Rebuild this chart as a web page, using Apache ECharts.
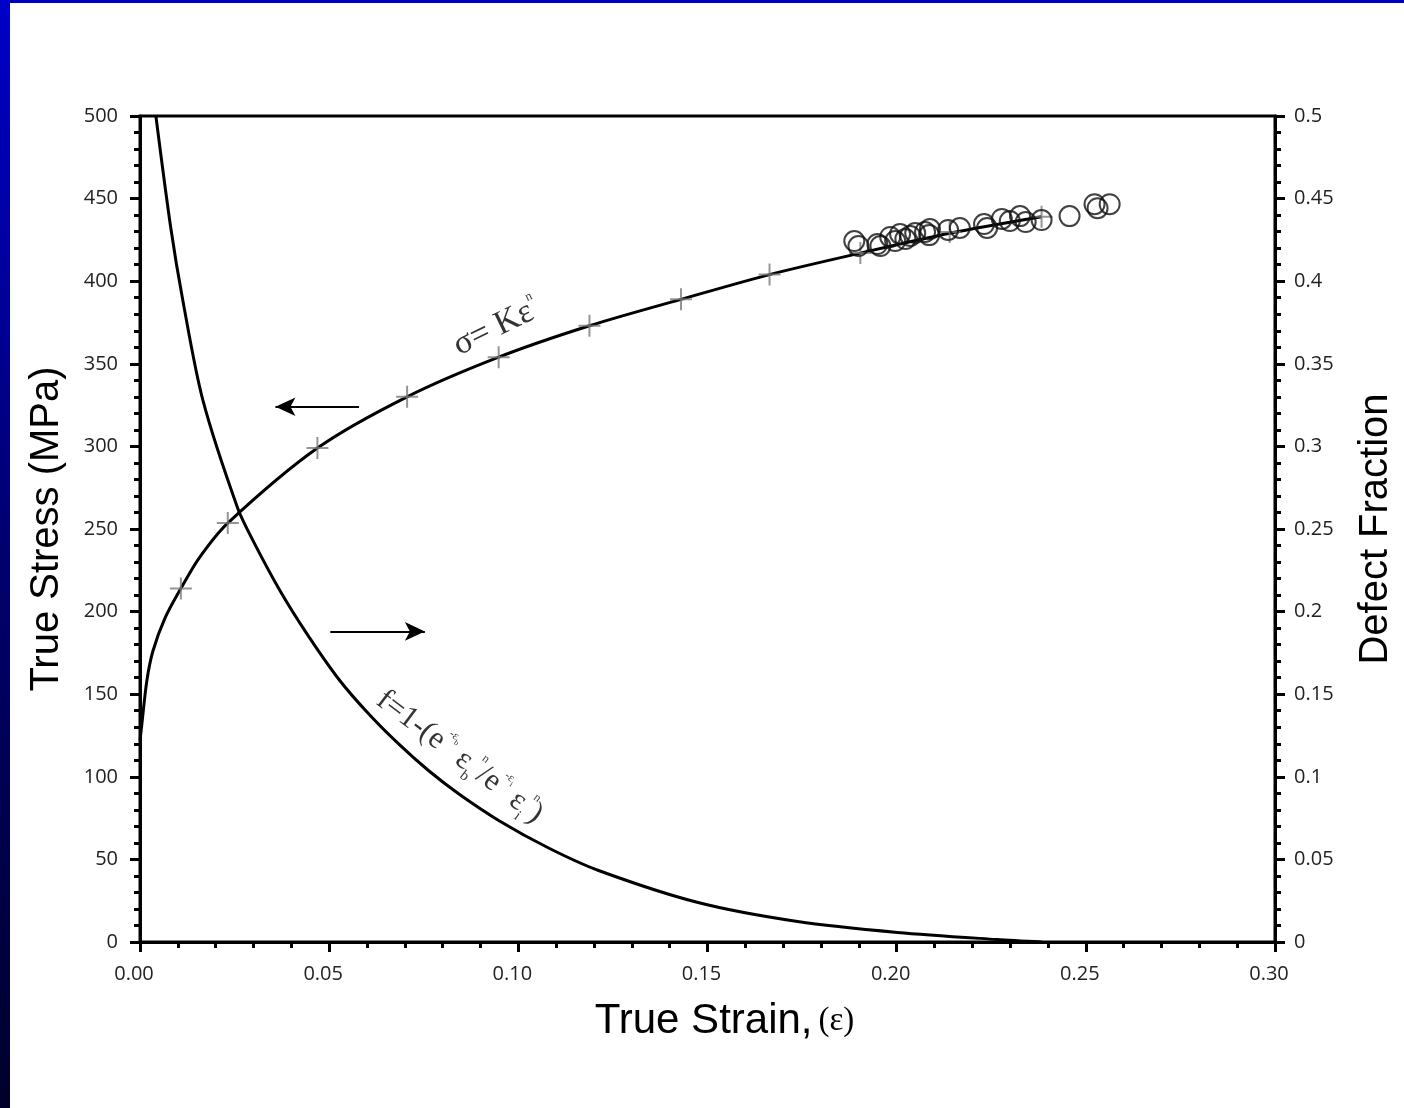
<!DOCTYPE html>
<html>
<head>
<meta charset="utf-8">
<script src="https://cdn.jsdelivr.net/npm/echarts@6/dist/echarts.min.js"></script>
<style>
  html, body { margin: 0; padding: 0; background: #ffffff; }
  #frameLeft { position: absolute; left: 0; top: 0; width: 10px; height: 1108px;
               background: linear-gradient(#0000c8, #00006e 50%, #00002a); }
  #frameTop  { position: absolute; left: 0; top: 0; width: 1404px; height: 3px; background: #0000c4; }
  #chart     { position: absolute; left: 0; top: 0; width: 1404px; height: 1108px; }
</style>
</head>
<body>
<div id="frameLeft"></div>
<div id="frameTop"></div>
<div id="chart"></div>
<script>
// Flow curve sigma = K*eps^n (true strain, true stress in MPa)
const stressCurve = [
  [0.0, 122], [0.0005, 132], [0.0018, 158], [0.0034, 176], [0.0066, 196],
  [0.0108, 214], [0.0158, 233], [0.0232, 253.6], [0.0469, 299], [0.0706, 330],
  [0.0948, 354], [0.1188, 373], [0.143, 389], [0.1664, 404], [0.1904, 417],
  [0.214, 429], [0.2383, 439]
];

// Fitted points marked with crosses
const fitPoints = [
  [0.0108, 214], [0.0232, 253.6], [0.0469, 299], [0.0706, 330], [0.0948, 354],
  [0.1188, 373], [0.143, 389], [0.1664, 404], [0.1904, 417], [0.214, 429.8], [0.2383, 439]
];

// Measured stress at large strains (open circles)
const measured = [
  [0.1888, 424.3], [0.1899, 421.3], [0.1949, 422.5], [0.1957, 421.3], [0.1983, 426.8],
  [0.1996, 424.3], [0.2009, 428.6], [0.2023, 425.5], [0.2036, 427.4], [0.2049, 429.2],
  [0.2075, 429.8], [0.2086, 427.9], [0.2088, 431.6], [0.2136, 431.0], [0.2167, 432.2],
  [0.2231, 434.6], [0.2239, 432.2], [0.2278, 437.7], [0.2299, 436.4], [0.2326, 439.4],
  [0.2341, 435.8], [0.2383, 437.0], [0.2457, 439.4], [0.2523, 446.6], [0.2531, 444.2],
  [0.2563, 446.6]
];

// Defect fraction f versus true strain (right axis)
const defectCurve = [
  [0.0042, 0.5], [0.0081, 0.4328], [0.0113, 0.3886], [0.0166, 0.3281], [0.0258, 0.2627],
  [0.0298, 0.2433], [0.0369, 0.2131], [0.044, 0.187], [0.0527, 0.1586], [0.0606, 0.1377],
  [0.0685, 0.1196], [0.0764, 0.1035], [0.0843, 0.0896], [0.0948, 0.0736], [0.108, 0.0569],
  [0.1212, 0.0433], [0.1475, 0.0239], [0.1738, 0.0124], [0.2002, 0.0058], [0.2265, 0.0015],
  [0.2383, 0.0]
];

// Axis tick labels
const xTicks = ['0.00', '0.05', '0.10', '0.15', '0.20', '0.25', '0.30'];
const yLeftTicks = ['0', '50', '100', '150', '200', '250', '300', '350', '400', '450', '500'];
const yRightTicks = ['0', '0.05', '0.1', '0.15', '0.2', '0.25', '0.3', '0.35', '0.4', '0.45', '0.5'];

// Direction arrows (from, to) in strain / MPa
const arrowToStress = [[0.0579, 324], [0.0358, 324]];
const arrowToDefect = [[0.0503, 188], [0.0753, 188]];

// Equation labels: anchor in strain / MPa
const sigmaLabelAt = [0.0942, 372];
const defectLabelAt = [0.0845, 112];

const tickFont = { fontFamily: 'Open Sans', fontSize: 20, color: '#222' };
const serif = 'Liberation Serif';

function axisCommon() {
  return {
    axisLine: { show: true, lineStyle: { color: '#000', width: 3 } },
    axisTick: { show: true, length: 10, lineStyle: { color: '#000', width: 3 } },
    minorTick: { show: true, splitNumber: 5, length: 6, lineStyle: { color: '#000', width: 3 } },
    splitLine: { show: false },
    minorSplitLine: { show: false }
  };
}

const chart = echarts.init(document.getElementById('chart'), null, { renderer: 'canvas' });

chart.setOption({
  animation: false,
  backgroundColor: 'transparent',
  grid: { left: 140, right: 125, top: 116, bottom: 166, show: true,
          borderColor: '#000', borderWidth: 3, backgroundColor: 'transparent' },
  xAxis: Object.assign(axisCommon(), {
    type: 'value', min: 0, max: 0.3, interval: 0.05,
    axisLabel: Object.assign({ margin: 22, padding: [0, 12, 0, 0],
                               formatter: (v) => xTicks[Math.round(v / 0.05)] }, tickFont),
    name: '{a|True Strain,}{b|(ε)}',
    nameLocation: 'middle', nameGap: 58,
    nameTextStyle: {
      padding: [0, 0, 0, 34],
      rich: {
        a: { fontFamily: 'Liberation Sans', fontSize: 42, color: '#000' },
        b: { fontFamily: serif, fontSize: 33, color: '#000', padding: [0, 0, 0, 6] }
      }
    }
  }),
  yAxis: [
    Object.assign(axisCommon(), {
      type: 'value', min: 0, max: 500, interval: 50, position: 'left',
      axisLabel: Object.assign({ margin: 22, formatter: (v) => yLeftTicks[Math.round(v / 50)] }, tickFont),
      name: 'True Stress (MPa)', nameLocation: 'middle', nameGap: 73, nameRotate: 90,
      nameTextStyle: { fontFamily: 'Liberation Sans', fontSize: 40, color: '#000' }
    }),
    Object.assign(axisCommon(), {
      type: 'value', min: 0, max: 0.5, interval: 0.05, position: 'right',
      axisLabel: Object.assign({ margin: 19, formatter: (v) => yRightTicks[Math.round(v / 0.05)] }, tickFont),
      name: 'Defect Fraction', nameLocation: 'middle', nameGap: 81, nameRotate: 90,
      nameTextStyle: { fontFamily: 'Liberation Sans', fontSize: 40, color: '#000' }
    })
  ],
  series: [
    {
      name: 'flow curve', type: 'line', data: stressCurve, yAxisIndex: 0,
      smooth: 0.3, showSymbol: false, silent: true, z: 2,
      lineStyle: { color: '#000', width: 3 },
      markLine: {
        silent: true, symbol: ['none', 'arrow'], symbolSize: [14, 20],
        label: { show: false },
        lineStyle: { color: '#000', width: 2, type: 'solid' },
        data: [
          [{ coord: arrowToStress[0] }, { coord: arrowToStress[1] }],
          [{ coord: arrowToDefect[0] }, { coord: arrowToDefect[1] }]
        ]
      }
    },
    {
      name: 'defect fraction', type: 'line', data: defectCurve, yAxisIndex: 1,
      smooth: 0.3, showSymbol: false, silent: true, z: 2,
      lineStyle: { color: '#000', width: 3 }
    },
    {
      name: 'fit', type: 'scatter', data: fitPoints, yAxisIndex: 0, silent: true, z: 3,
      symbol: 'path://M10 0 L10 20 M0 10 L20 10', symbolSize: 22,
      itemStyle: { color: 'transparent', borderColor: '#7a7a7a', borderWidth: 2 }
    },
    {
      name: 'measured', type: 'scatter', data: measured, yAxisIndex: 0, silent: true, z: 3,
      symbol: 'circle', symbolSize: 20,
      itemStyle: { color: 'transparent', borderColor: '#111', borderWidth: 2 }
    },
    {
      name: 'equations', type: 'scatter', yAxisIndex: 0, silent: true, symbolSize: 0, z: 4,
      data: [
        { value: sigmaLabelAt, label: {
            rotate: 26, formatter: '{m|σ= Kε}{s|n}',
            rich: {
              m: { fontFamily: serif, fontSize: 34, color: '#000', lineHeight: 40 },
              s: { fontFamily: serif, fontSize: 13, color: '#000', verticalAlign: 'top' }
            } } },
        { value: defectLabelAt, label: {
            rotate: -37,
            formatter: '{m|f=1-(e}{s|-ε}{t|b}{m| ε}{b|b}{s|n}{m|/e}{s|-ε}{t|i}{m| ε}{b|i}{s|n}{m|)}',
            rich: {
              m: { fontFamily: serif, fontSize: 31, color: '#000', lineHeight: 40 },
              s: { fontFamily: serif, fontSize: 12, color: '#000', verticalAlign: 'top' },
              t: { fontFamily: serif, fontSize: 8, color: '#000', verticalAlign: 'top', padding: [7, 0, 0, 0] },
              b: { fontFamily: serif, fontSize: 15, color: '#000', verticalAlign: 'bottom' }
            } } }
      ],
      label: { show: true, position: 'inside', color: '#000' }
    }
  ]
});
</script>
</body>
</html>
